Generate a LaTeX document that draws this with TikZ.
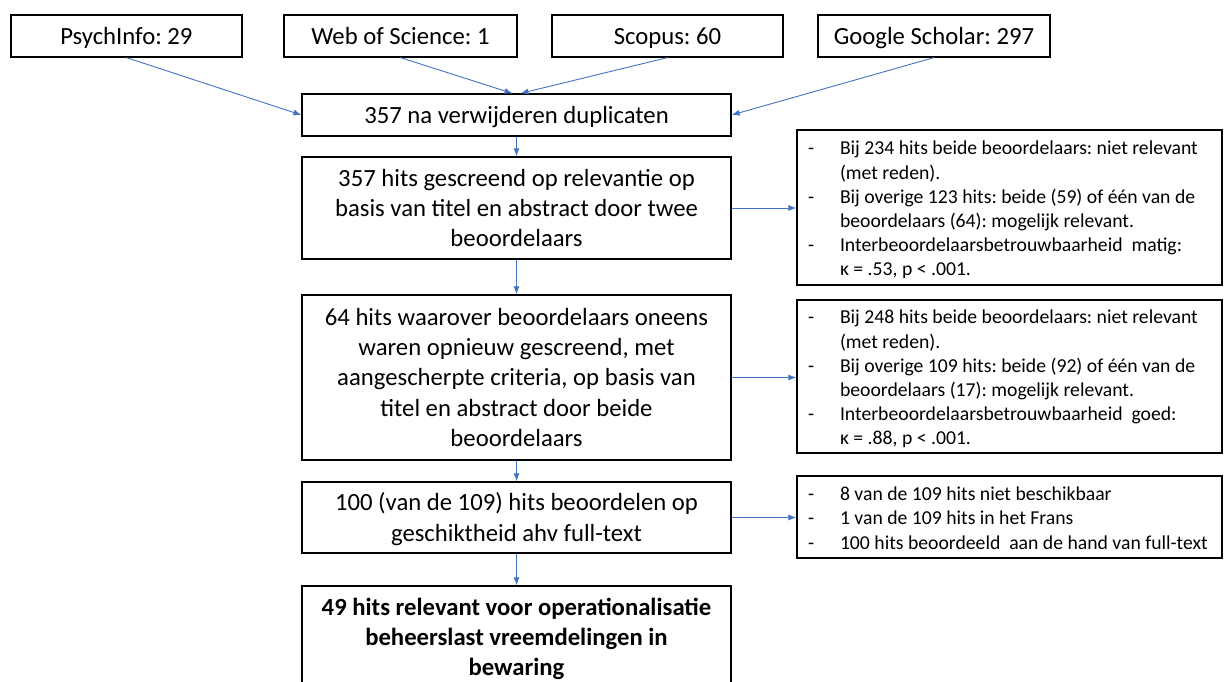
\documentclass[tikz,border=0pt]{standalone}
\usepackage{fontspec}
\setmainfont{Carlito}
\usetikzlibrary{arrows.meta}
\definecolor{arrowblue}{HTML}{4472C4}
\frenchspacing
\newcommand{\dashitem}{\makebox[32pt][l]{-}}
\newcommand{\hangin}{\hspace*{32pt}}
\newcommand{\tstrut}{\rule{0pt}{26pt}}
\newcommand{\sidetext}[1]{\makebox[403pt][l]{\begin{tabular}{@{}l@{}}\rule{0pt}{23pt}#1\end{tabular}}}
\begin{document}
\begin{tikzpicture}[x=1pt,y=-1pt,
  box/.style={draw=black, line width=1.2pt, inner sep=0pt, align=center,
    font=\fontsize{24.7}{30.3}\selectfont},
  side/.style={draw=black, line width=1.2pt, inner xsep=11pt, inner ysep=0pt,
    minimum width=425pt, font=\fontsize{19.7}{24.2}\selectfont},
  arr/.style={draw=arrowblue, line width=0.9pt, -{Latex[length=8pt,width=6pt]}}]
\clip (0,0) rectangle (1224,682);
\fill[white] (0,0) rectangle (1224,682);

% top sources
\node[box, minimum width=231pt, minimum height=42pt] (psy) at (126.4,36) {\tstrut PsychInfo: 29\strut};
\node[box, minimum width=233pt, minimum height=42pt] (wos) at (400.5,36) {\tstrut Web of Science: 1\strut};
\node[box, minimum width=231pt, minimum height=42pt] (sco) at (667.5,36) {\tstrut Scopus: 60\strut};
\node[box, minimum width=232pt, minimum height=42pt] (gs) at (934,36) {\tstrut Google Scholar: 297\strut};

% central column
\node[box, minimum width=429pt, minimum height=42pt] (dup) at (516.5,115) {\tstrut 357 na verwijderen duplicaten\strut};
\node[box, minimum width=429pt, minimum height=102pt] (scr) at (516.5,208)
  {\tstrut 357 hits gescreend op relevantie op\\basis van titel en abstract door twee\\beoordelaars\strut};
\node[box, minimum width=429pt, minimum height=165pt] (re) at (516.5,377.5)
  {\tstrut 64 hits waarover beoordelaars oneens\\waren opnieuw gescreend, met\\aangescherpte criteria, op basis van\\titel en abstract door beide\\beoordelaars\strut};
\node[box, minimum width=429pt, minimum height=71pt] (ful) at (516.5,517.5)
  {\tstrut 100 (van de 109) hits beoordelen op\\geschiktheid ahv full-text\strut};
\node[box, minimum width=429pt, minimum height=102pt, font=\fontsize{24.7}{30.3}\selectfont\bfseries] (res) at (516.5,637)
  {\tstrut 49 hits relevant voor operationalisatie\\beheerslast vreemdelingen in\\bewaring\strut};

% side boxes
\node[side, minimum height=155pt] (r1) at (1009.5,207.5)
  {\sidetext{\dashitem Bij 234 hits beide beoordelaars: niet relevant\\
   \hangin(met reden).\\
   \dashitem Bij overige 123 hits: beide (59) of één van de\\
   \hangin beoordelaars (64): mogelijk relevant.\\
   \dashitem Interbeoordelaarsbetrouwbaarheid\ \ matig:\\
   \hangin κ = .53, p < .001.}};
\node[side, minimum height=153pt] (r2) at (1009.5,376.5)
  {\sidetext{\dashitem Bij 248 hits beide beoordelaars: niet relevant\\
   \hangin(met reden).\\
   \dashitem Bij overige 109 hits: beide (92) of één van de\\
   \hangin beoordelaars (17): mogelijk relevant.\\
   \dashitem Interbeoordelaarsbetrouwbaarheid\ \ goed:\\
   \hangin κ = .88, p < .001.}};
\node[side, minimum height=82pt] (r3) at (1009.5,517)
  {\sidetext{\dashitem 8 van de 109 hits niet beschikbaar\\
   \dashitem 1 van de 109 hits in het Frans\\
   \dashitem 100 hits beoordeeld\ \ aan de hand van full-text}};

% connectors
\draw[arr] (psy.south) -- (dup.west);
\draw[arr] (wos.south) -- ([xshift=-4pt]dup.north);
\draw[arr] (sco.south) -- ([xshift=4pt]dup.north);
\draw[arr] (gs.south) -- (dup.east);
\draw[arr] (dup.south) -- (scr.north);
\draw[arr] (scr.south) -- (re.north);
\draw[arr] (re.south) -- (ful.north);
\draw[arr] (ful.south) -- (res.north);
\draw[arr] (scr.east) -- (scr.east -| r1.west);
\draw[arr] (re.east) -- (re.east -| r2.west);
\draw[arr] (ful.east) -- (ful.east -| r3.west);
\end{tikzpicture}
\end{document}
